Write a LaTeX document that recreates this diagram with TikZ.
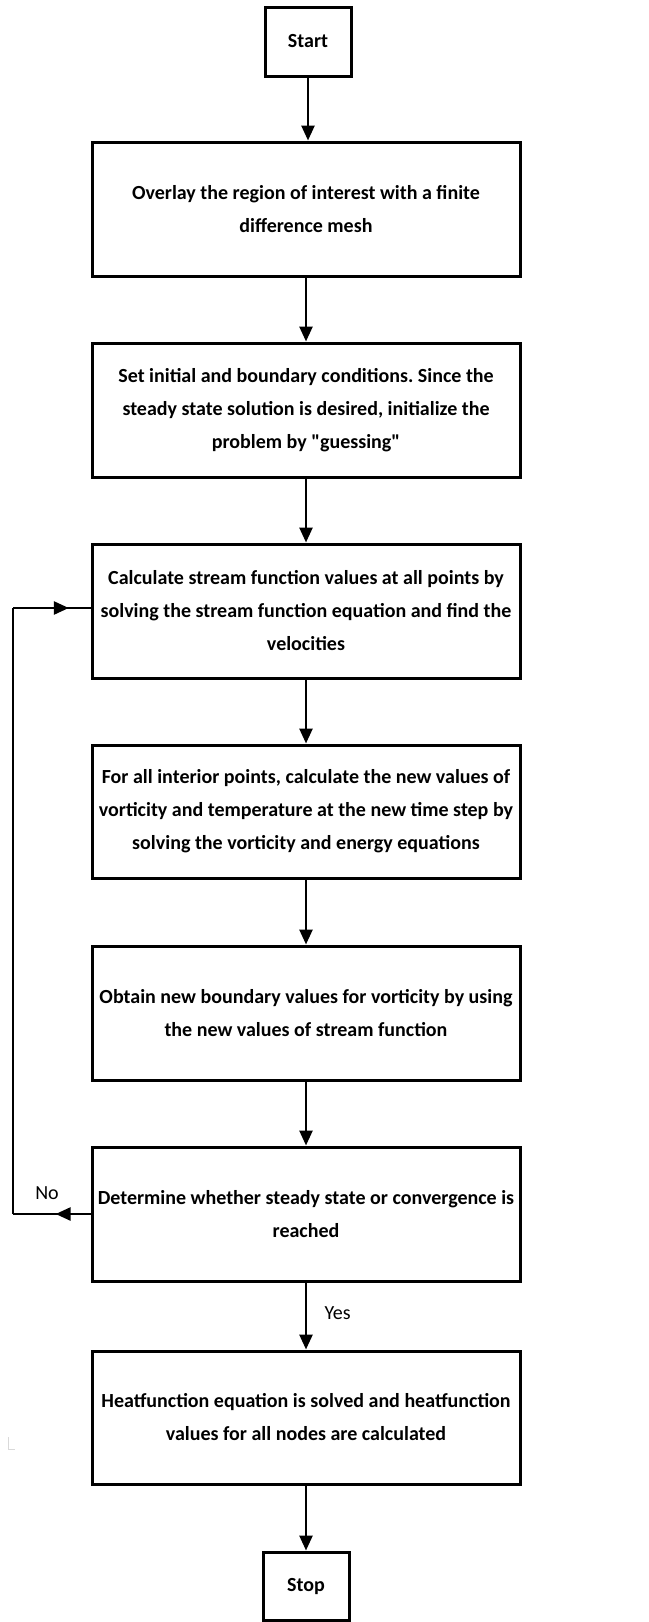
\documentclass[tikz,border=0pt]{standalone}
\usepackage{fontspec}
\setmainfont{Carlito}[Ligatures=TeXOff]
\frenchspacing
\usetikzlibrary{arrows.meta,decorations.markings}
\begin{document}
\begin{tikzpicture}[x=1pt,y=-1pt,
  stepbox/.style={draw=black,line width=3pt,minimum width=428pt,inner sep=0pt,align=center,
     font=\fontsize{20}{33}\selectfont\bfseries},
  termbox/.style={draw=black,line width=3pt,minimum width=86pt,minimum height=69pt,inner sep=0pt,
     font=\fontsize{20}{22}\selectfont\bfseries},
  flow/.style={line width=2.6pt,-{Triangle[width=13pt,length=15pt]}},
  plain/.style={line width=2.6pt},
  midarrow/.style={line width=2.6pt,postaction={decorate},
     decoration={markings,mark=at position #1 with {\arrow{Triangle[width=13pt,length=15pt]}}}},
  lbl/.style={font=\fontsize{20}{22}\selectfont}
]
\useasboundingbox (0,0) rectangle (648,1622);
\node[termbox] (start) at (308,41.5) {Start};
\node[stepbox,minimum height=134pt] (overlay) at (306,209) {Overlay the region of interest with a finite\\difference mesh};
\node[stepbox,minimum height=134pt] (init) at (306,410) {Set initial and boundary conditions.\ Since the\\steady state solution is desired, initialize the\\problem by "guessing"};
\node[stepbox,minimum height=134pt] (calc) at (306,611) {Calculate stream function values at all points by\\solving the stream function equation and find the\\velocities};
\node[stepbox,minimum height=133pt] (inter) at (306,811.5) {For all interior points, calculate the new values of\\vorticity and temperature at the new time step by\\solving the vorticity and energy equations};
\node[stepbox,minimum height=134pt] (bound) at (306,1013) {Obtain new boundary values for vorticity by using\\the new values of stream function};
\node[stepbox,minimum height=134pt] (conv) at (306,1214) {Determine whether steady state or convergence is\\reached};
\node[stepbox,minimum height=133pt] (heat) at (306,1417.5) {Heatfunction equation is solved and heatfunction\\values for all nodes are calculated};
\node[termbox,minimum height=68pt] (stop) at (306,1586) {Stop};

\draw[flow] (start.south) -- (start.south |- overlay.north);
\draw[flow] (overlay.south) -- (init.north);
\draw[flow] (init.south) -- (calc.north);
\draw[flow] (calc.south) -- (inter.north);
\draw[flow] (inter.south) -- (bound.north);
\draw[flow] (bound.south) -- (conv.north);
\draw[flow] (conv.south) -- node[lbl,right=14pt,pos=0.45] (yes) {Yes} (heat.north);
\draw[flow] (heat.south) -- (stop.north);

\coordinate (c1) at (13,1214);
\coordinate (c2) at (13,608);
\draw[midarrow=0.45] (conv.west) -- (c1);
\draw[plain] (c1) -- (c2);
\draw[midarrow=0.72] (c2) -- (calc.west |- c2);
\node[lbl,anchor=south] (no) at (47,1203) {No};

\draw[gray!30,line width=1pt] (8,1437) -- (8,1449) -- (15,1449);
\end{tikzpicture}
\end{document}
